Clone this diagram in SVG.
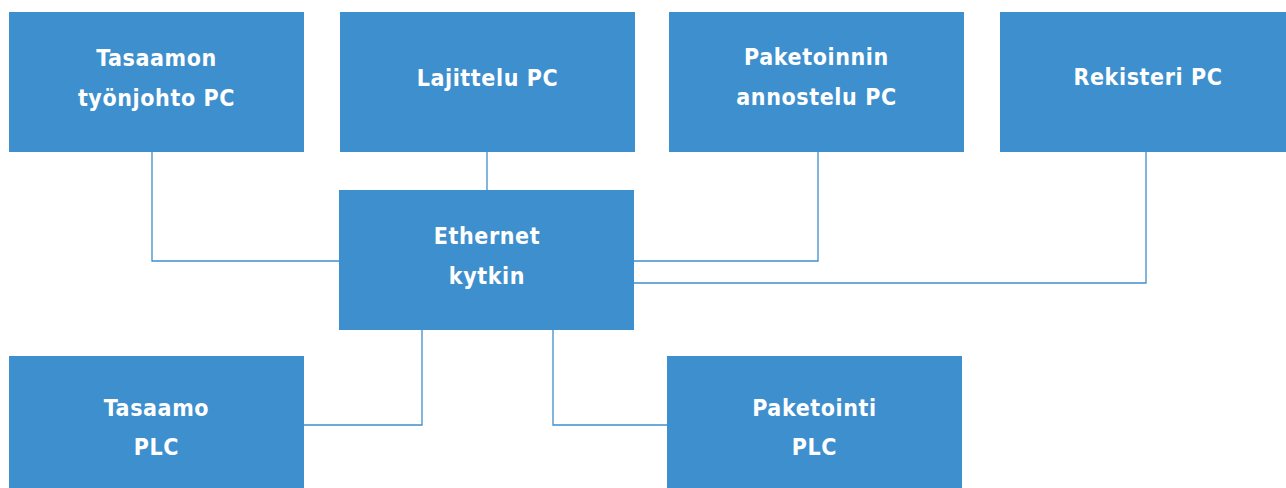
<svg xmlns="http://www.w3.org/2000/svg" width="1286" height="488" viewBox="0 0 1286 488">
<style>
.box{fill:#3E8FCD}
.t{fill:#fff;font-family:"DejaVu Sans Condensed","DejaVu Sans",sans-serif;font-weight:bold;font-size:23px;letter-spacing:0.6px;text-anchor:middle;dominant-baseline:central}
.c{fill:none;stroke:#3E8FCD;stroke-width:1.3}
</style>
<rect width="1286" height="488" fill="#fff"/>
<g id="connectors">
<polyline class="c" points="152,152 152,261 339,261"/>
<polyline class="c" points="487,152 487,190"/>
<polyline class="c" points="634,261 818,261 818,152"/>
<polyline class="c" points="634,283 1146,283 1146,152"/>
<polyline class="c" points="422,330 422,425 304,425"/>
<polyline class="c" points="553,330 553,425 667,425"/>
</g>
<g id="n1"><rect class="box" x="9" y="12" width="295" height="140"/><text class="t" x="156.5" y="58">Tasaamon</text><text class="t" x="156.5" y="98">työnjohto PC</text></g>
<g id="n2"><rect class="box" x="340" y="12" width="295" height="140"/><text class="t" x="487.5" y="78">Lajittelu PC</text></g>
<g id="n3"><rect class="box" x="669" y="12" width="295" height="140"/><text class="t" x="816.5" y="57">Paketoinnin</text><text class="t" x="816.5" y="97">annostelu PC</text></g>
<g id="n4"><rect class="box" x="1000" y="12" width="286" height="140"/><text class="t" x="1148" y="77">Rekisteri PC</text></g>
<g id="n5"><rect class="box" x="339" y="190" width="295" height="140"/><text class="t" x="487" y="236">Ethernet</text><text class="t" x="487" y="276">kytkin</text></g>
<g id="n6"><rect class="box" x="9" y="356" width="295" height="132"/><text class="t" x="156.5" y="408">Tasaamo</text><text class="t" x="156.5" y="447">PLC</text></g>
<g id="n7"><rect class="box" x="667" y="356" width="295" height="132"/><text class="t" x="814.5" y="408">Paketointi</text><text class="t" x="814.5" y="447">PLC</text></g>
</svg>
